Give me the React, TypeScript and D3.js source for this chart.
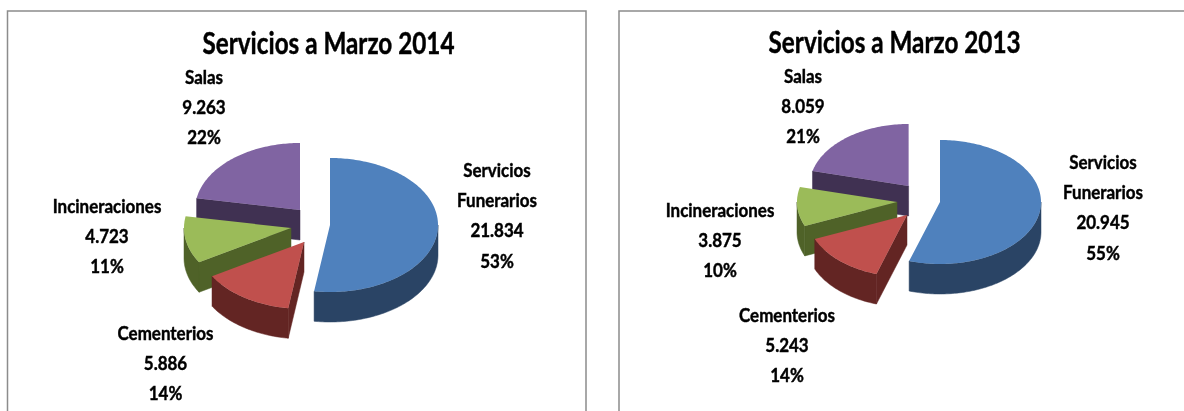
import React from 'react';
import * as d3 from 'd3';

const categories = ['Servicios Funerarios', 'Cementerios', 'Incineraciones', 'Salas'];
const values2014 = [21834, 5886, 4723, 9263];
const values2013 = [20945, 5243, 3875, 8059];
const valueLabels2014 = ['21.834', '5.886', '4.723', '9.263'];
const valueLabels2013 = ['20.945', '5.243', '3.875', '8.059'];
const percentLabels2014 = ['53%', '14%', '11%', '22%'];
const percentLabels2013 = ['55%', '14%', '10%', '21%'];
const topColors = ['#4F81BD', '#C0504D', '#9BBB59', '#8064A2'];
const sideColors = ['#2A4465', '#632523', '#4F6228', '#403152'];

const FONT = 'Lato, "Open Sans", sans-serif';
const drawOrder = [3, 2, 1, 0];

const layouts = [
  {
    title: 'Servicios a Marzo 2014', titleX: 328.5, titleY: 54, titleW: 252,
    values: values2014, valueLabels: valueLabels2014, percentLabels: percentLabels2014,
    ry: 67, depth: 30,
    radii: [108, 107, 107, 105],
    centers: [[330, 225], [304, 242], [291, 228], [300, 210]],
    labels: [[497, 177], [165.5, 340], [107, 213], [204, 84]],
  },
  {
    title: 'Servicios a Marzo 2013', titleX: 894.6, titleY: 53, titleW: 252,
    values: values2013, valueLabels: valueLabels2013, percentLabels: percentLabels2013,
    ry: 62, depth: 30,
    radii: [101, 100, 100, 99],
    centers: [[940, 202], [907, 215], [897, 202], [908.6, 186]],
    labels: [[1103, 169], [787, 322], [720, 217], [803, 83]],
  },
];

const line = d3.line<[number, number]>().x((d) => d[0]).y((d) => d[1]);

function arcPoints(cx: number, cy: number, rx: number, ry: number, a0: number, a1: number, dy = 0): [number, number][] {
  const n = Math.max(2, Math.ceil(Math.abs(a1 - a0) / 0.02));
  const angle = d3.scaleLinear().domain([0, n]).range([a0, a1]);
  return d3.range(n + 1).map((i) => {
    const a = angle(i);
    return [cx + rx * Math.sin(a), cy - ry * Math.cos(a) + dy] as [number, number];
  });
}

function Pie3D({ cfg }: { cfg: (typeof layouts)[number] }) {
  const arcs = d3.pie<number>().sort(null)(cfg.values);
  const { ry, depth } = cfg;
  return (
    <g>
      {drawOrder.map((i) => {
        const { startAngle: a0, endAngle: a1 } = arcs[i];
        const [cx, cy] = cfg.centers[i];
        const rx = cfg.radii[i];
        const faces: string[] = [];
        const edge = (a: number) => {
          const [p] = arcPoints(cx, cy, rx, ry, a, a + 0.01);
          return line([[cx, cy], p, [p[0], p[1] + depth], [cx, cy + depth]] as [number, number][]) + 'Z';
        };
        if (Math.sin(a0) < -1e-6) faces.push(edge(a0));
        if (Math.sin(a1) > 1e-6) faces.push(edge(a1));
        const w0 = Math.max(a0, Math.PI / 2);
        const w1 = Math.min(a1, (3 * Math.PI) / 2);
        if (w1 > w0) {
          const top = arcPoints(cx, cy, rx, ry, w0, w1);
          const bottom = arcPoints(cx, cy, rx, ry, w0, w1, depth).reverse();
          faces.push(line([...top, ...bottom]) + 'Z');
        }
        const topFace = line([[cx, cy], ...arcPoints(cx, cy, rx, ry, a0, a1)] as [number, number][]) + 'Z';
        return (
          <g key={i}>
            {faces.map((d, k) => (
              <path key={k} d={d} fill={sideColors[i]} stroke={sideColors[i]} strokeWidth={0.5} />
            ))}
            <path d={topFace} fill={topColors[i]} />
          </g>
        );
      })}
      <g filter="url(#soft)" stroke="#000" strokeWidth={0.45}>
        <text x={cfg.titleX} y={cfg.titleY} textAnchor="middle" fontFamily={FONT} fontWeight={700} fontSize={30}
          textLength={cfg.titleW} lengthAdjust="spacingAndGlyphs" fill="#000">{cfg.title}</text>
        {categories.map((c, i) => {
          const words = i === 0 ? c.split(' ') : [c];
          const rows = [...words, cfg.valueLabels[i], cfg.percentLabels[i]];
          const [x, y] = cfg.labels[i];
          return (
            <text key={c} transform={`translate(${x},${y}) scale(0.87,1)`} textAnchor="middle" fontFamily={FONT}
              fontWeight={700} fontSize={19.5} fill="#000">
              {rows.map((r, k) => (
                <tspan key={k} x={0} y={k * 30.2}>{r}</tspan>
              ))}
            </text>
          );
        })}
      </g>
    </g>
  );
}

export default function App() {
  return (
    <svg width={1184} height={411} style={{ position: 'absolute', left: 0, top: 0, background: '#fff' }}>
      <defs>
        <filter id="soft" x="-5%" y="-5%" width="110%" height="110%">
          <feGaussianBlur stdDeviation="0.3" />
        </filter>
      </defs>
      <path d="M7.5 411V11H586V411" fill="none" stroke="#8C8C8C" strokeWidth={1.5} />
      <path d="M619 411V11H1184" fill="none" stroke="#8C8C8C" strokeWidth={1.5} />
      {layouts.map((cfg) => <Pie3D key={cfg.title} cfg={cfg} />)}
    </svg>
  );
}
